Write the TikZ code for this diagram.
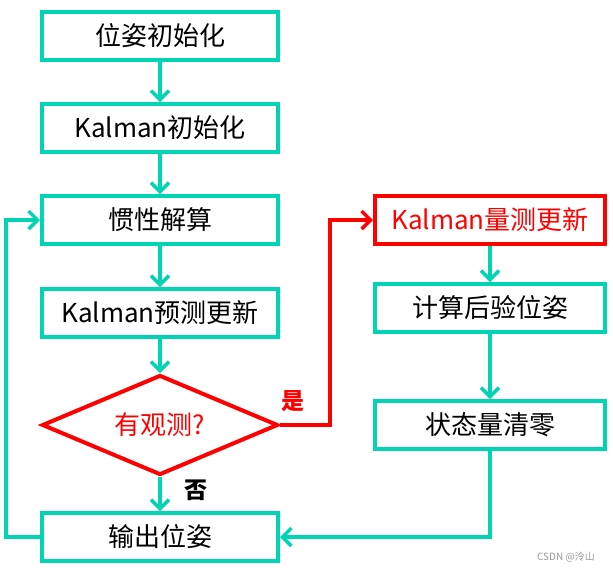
\documentclass[tikz,border=0pt]{standalone}
\usepackage{fontspec}
\setmainfont{Noto Sans CJK SC}
\usetikzlibrary{shapes.geometric,arrows.meta}
\definecolor{tealc}{RGB}{0,212,180}

\tikzset{
  box/.style={draw=tealc,line width=4pt,minimum width=236pt,minimum height=48pt,inner sep=0pt,font=\fontsize{26}{30}\selectfont},
  arr/.style={draw=tealc,line width=4pt,-{Straight Barb[length=9pt,width=18pt,line width=3.5pt]}},
}

\begin{document}
\begin{tikzpicture}[x=1pt,y=-1pt]
    \useasboundingbox (0,0) rectangle (613,571);
    % left column
	\node[box] (init) at (160,36) {位姿初始化};
	\node[box] (kinit) at (160,128) {Kalman初始化};
	\node[box] (ins) at (160,220) {惯性解算};
	\node[box] (pred) at (160,313) {Kalman预测更新};
	\node[diamond,draw=red,line width=4pt,minimum width=236pt,minimum height=100pt,inner sep=0pt,aspect=2.36,
	      text=red,font=\fontsize{26}{30}\selectfont] (obs) at (160,425) {有观测?};
	\node[box] (out) at (160,537) {输出位姿};
    % right column
	\node[box,draw=red,text=red,minimum width=230pt] (upd) at (490,220) {Kalman量测更新};
	\node[box,minimum width=230pt] (post) at (490,308) {计算后验位姿};
	\node[box,minimum width=230pt] (reset) at (490,425) {状态量清零};
    % connectors
	\draw[arr] (init) -- (kinit);
	\draw[arr] (kinit) -- (ins);
	\draw[arr] (ins) -- (pred);
	\draw[arr] (pred) -- (obs);
	\draw[arr] (obs) -- (out);
	\draw[arr] (out.west) -- ++(-34,0) |- (ins.west);
	\draw[arr,draw=red] (obs.east) -- ++(50,0) |- (upd.west);
	\draw[arr] (upd) -- (post);
	\draw[arr] (post) -- (reset);
	\draw[arr] (reset.south) |- (out.east);
    % labels
	\node[text=red,font=\fontsize{23}{26}\selectfont\bfseries] (yes) at (293,401) {是};
	\node[font=\fontsize{23}{26}\selectfont\bfseries] (no) at (196,490) {否};
	\node[text=gray!80,font=\fontsize{10}{12}\selectfont] (mark) at (566,557) {CSDN @泠山};
\end{tikzpicture}
\end{document}
